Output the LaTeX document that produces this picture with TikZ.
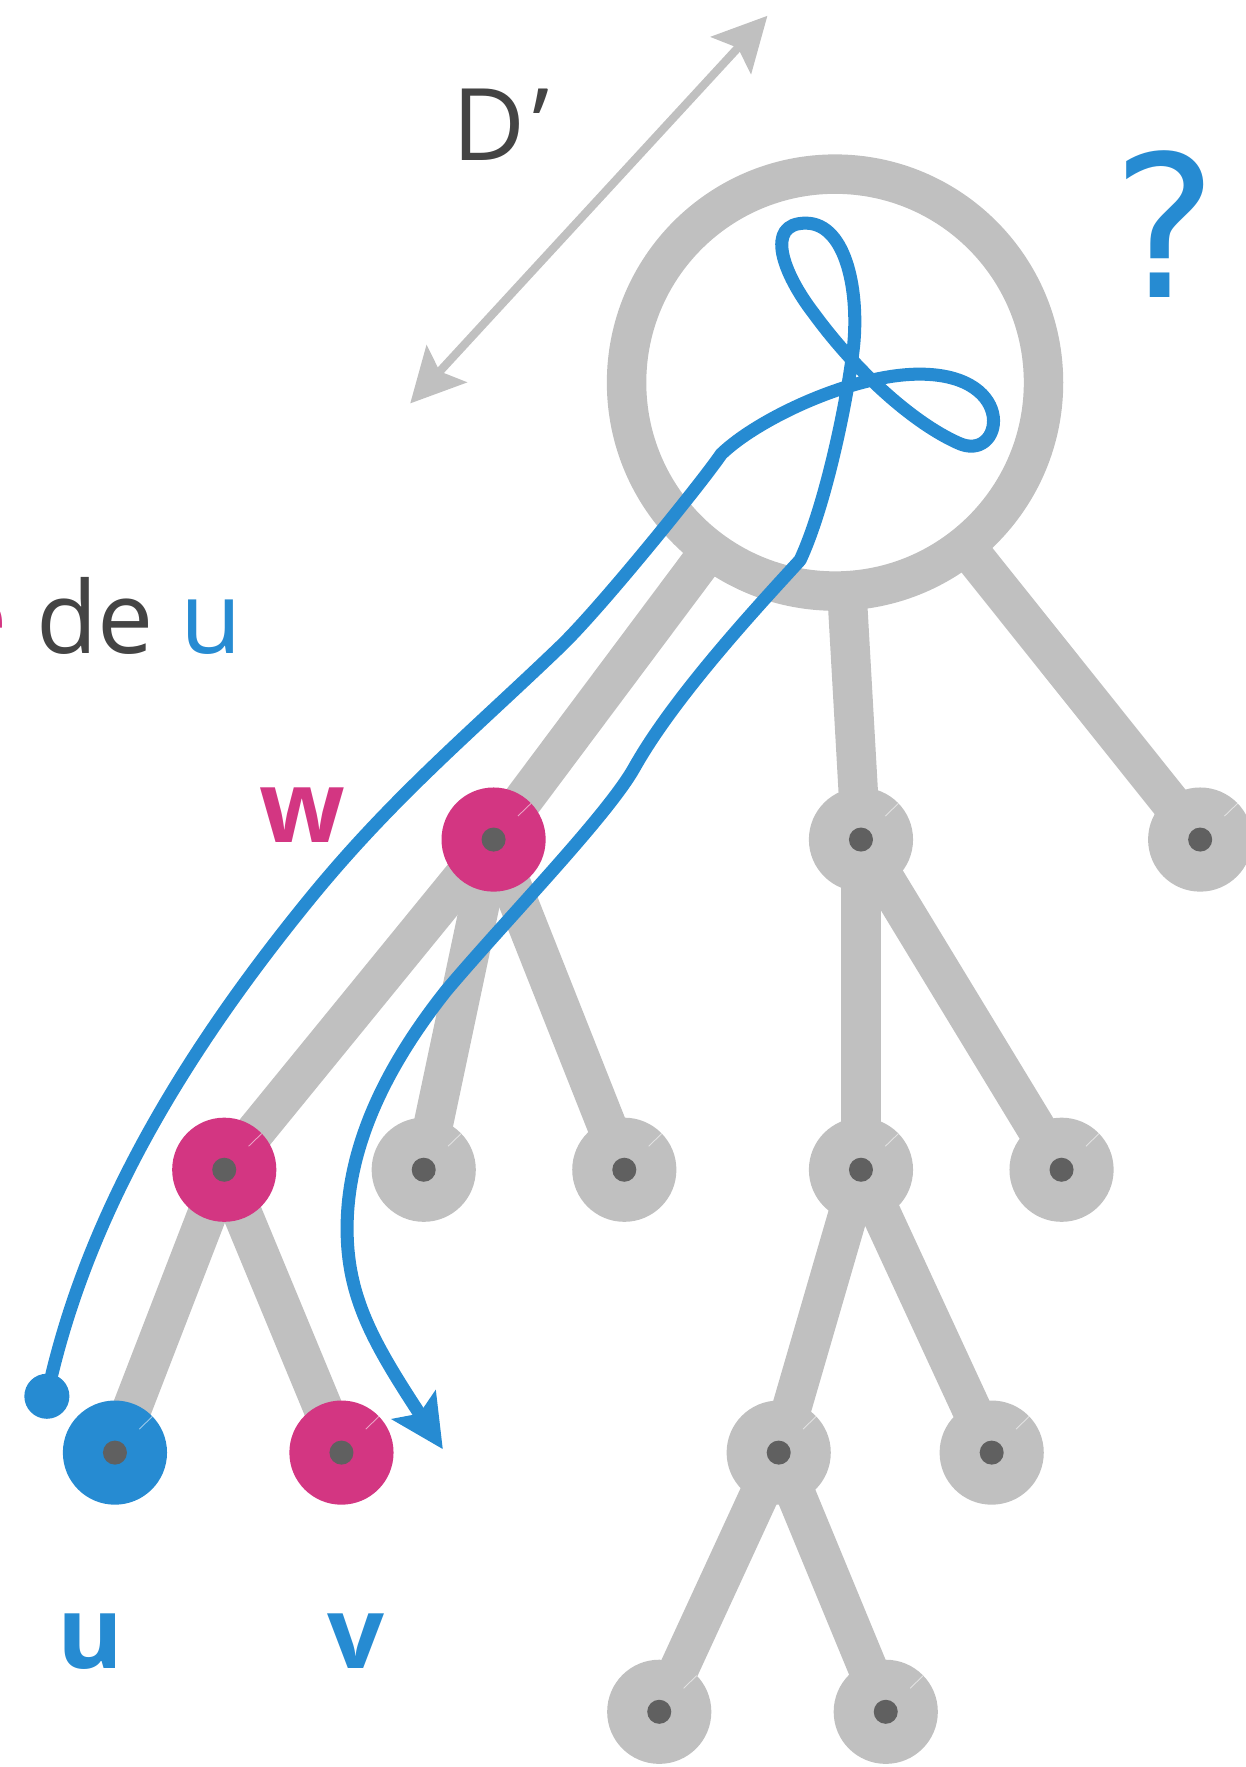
\documentclass[tikz,border=0pt]{standalone}
\usepackage{fontspec}
\setmainfont{Open Sans}
\newfontfamily\qfont{DejaVu Sans}
\usetikzlibrary{arrows.meta,backgrounds}
\definecolor{edgegray}{HTML}{C0C0C0}
\definecolor{dotgray}{HTML}{606060}
\definecolor{mag}{HTML}{D33682}
\definecolor{sblue}{HTML}{268BD2}
\definecolor{txt}{HTML}{444444}
\begin{document}
\begin{tikzpicture}[x=0.45pt,y=-0.45pt,
  treenode/.style={circle, fill=edgegray, minimum size=41.6pt, inner sep=0pt, outer sep=0pt,
    path picture={\fill[dotgray] (path picture bounding box.center) circle (4.8pt);}},
  magnode/.style={treenode, fill=mag},
  bluenode/.style={treenode, fill=sblue},
  treeedge/.style={draw=edgegray, line width=15.75pt},
  rootring/.style={circle, draw=edgegray, line width=15.75pt, fill=white, minimum size=166.5pt, inner sep=0pt},
  bluepath/.style={draw=sblue, line width=5.2pt, line join=round},
  grayarrow/.style={draw=edgegray, line width=3.3pt},
  glint/.style={draw=white, line width=0.35pt, opacity=0.55},
  lbl/.style={inner sep=0pt, anchor=base, font=\fontsize{40}{48}\selectfont},
  boldlbl/.style={lbl, font=\bfseries\fontsize{40}{48}\selectfont}
]
\useasboundingbox (0,0) rectangle (1105,1568);

% tree nodes
\node[rootring] (root) at (741,339.5) {};
\node[magnode] (w) at (438,745) {};
\node[magnode] (n1) at (199,1038) {};
\node[bluenode] (u) at (102,1289) {};
\node[magnode] (v) at (303,1289) {};
\node[treenode] (g3) at (376,1038) {};
\node[treenode] (g4) at (554,1038) {};
\node[treenode] (g1) at (764,745) {};
\node[treenode] (g2) at (1065,745) {};
\node[treenode] (g5) at (764,1038) {};
\node[treenode] (g6) at (942,1038) {};
\node[treenode] (g7) at (691,1289) {};
\node[treenode] (g8) at (880,1289) {};
\node[treenode] (g9) at (585,1519) {};
\node[treenode] (g10) at (786,1519) {};
\foreach \n in {w,n1,u,v,g1,g2,g3,g4,g5,g6,g7,g8,g9,g10}
  \draw[glint] (\n.center) ++(44:13.5pt) -- (\n.44);

\begin{scope}[on background layer]
\draw[treeedge] (root.center) -- (w.center);
\draw[treeedge] (root.center) -- (g1.center);
\draw[treeedge] (root.center) -- (g2.center);
\draw[treeedge] (w.center) -- (n1.center);
\draw[treeedge] (w.center) -- (g3.center);
\draw[treeedge] (w.center) -- (g4.center);
\draw[treeedge] (n1.center) -- (u.center);
\draw[treeedge] (n1.center) -- (v.center);
\draw[treeedge] (g1.center) -- (g5.center);
\draw[treeedge] (g1.center) -- (g6.center);
\draw[treeedge] (g5.center) -- (g7.center);
\draw[treeedge] (g5.center) -- (g8.center);
\draw[treeedge] (g7.center) -- (g9.center);
\draw[treeedge] (g7.center) -- (g10.center);
\end{scope}

% gray double arrow
\coordinate (dA) at (364,358);
\coordinate (dB) at (681,14);
\draw[grayarrow, {Stealth[length=21.4pt, width=21.6pt, inset=4pt]}-{Stealth[length=21.4pt, width=21.6pt, inset=4pt]}] (dA) -- (dB);

% blue path
\node[circle, fill=sblue, minimum size=18pt, inner sep=0pt] (udot) at (41.6,1239) {};
\coordinate (pend) at (393,1286);
\draw[bluepath, -{Stealth[length=21pt, width=20.5pt, inset=4pt]}] (udot.center)
 .. controls (73,1092) and (151,949) .. (277,795)
 .. controls (350,706) and (420,648) .. (497,574)
 .. controls (533,539.5) and (623,428) .. (640,403)
 .. controls (672,372) and (756,332) .. (816,332)
 .. controls (905,332) and (890,412) .. (850,393)
 .. controls (810,375) and (760,330) .. (722,278)
 .. controls (695,243) and (678,198) .. (715,198)
 .. controls (752,198) and (763,262) .. (757,311)
 .. controls (751,360) and (732,450) .. (710,497)
 .. controls (680,530) and (600,615) .. (563,681)
 .. controls (538.5,724.5) and (450,815) .. (396,879)
 .. controls (350,937) and (308,1010) .. (308,1090)
 .. controls (308,1150) and (330,1190) .. (pend);

% labels
\node[lbl, anchor=base west, text=txt] (dlabel) at (401,142) {D\kern3pt’};
\node[lbl, font=\qfont\fontsize{79}{95}\selectfont, text=sblue] (qmark) at (1034,264) {?};
\node[boldlbl, text=mag] (wlabel) at (268,748) {w};
\node[boldlbl, text=sblue] (ulabel) at (80,1481) {u};
\node[boldlbl, text=sblue] (vlabel) at (316,1481) {v};
\node[lbl, anchor=base west, text=txt] (deu) at (32,580) {de \textcolor{sblue}{u}};
\node[lbl, anchor=base east, text=mag] (anc) at (7,580) {ancêtre};
\end{tikzpicture}
\end{document}
